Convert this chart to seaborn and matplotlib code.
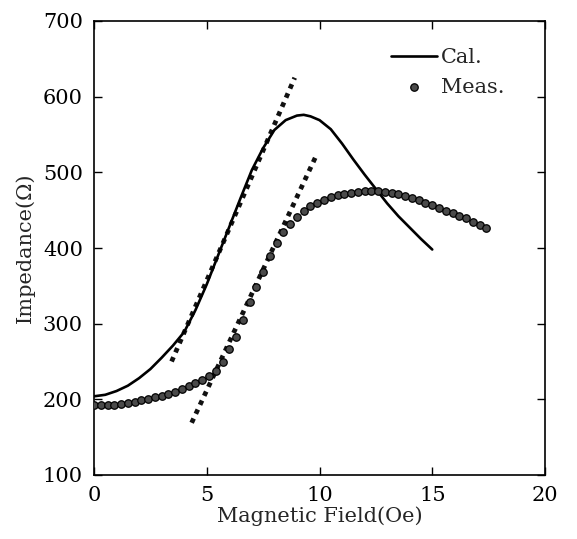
import matplotlib
matplotlib.use("Agg")
import matplotlib.pyplot as plt
import seaborn as sns
import pandas as pd

# Calculated curve (solid line)
cal_x = [0, 0.5, 1, 1.5, 2, 2.5, 3, 3.5, 4, 4.5, 5, 5.5, 6, 6.5, 7, 7.5, 8, 8.5,
         9, 9.3, 9.6, 10, 10.5, 11, 11.5, 12, 12.5, 13, 13.5, 14, 14.5, 15]
cal_y = [204, 206, 211, 218, 228, 240, 255, 271, 289, 318, 352, 390, 428, 466, 503, 532, 556, 569,
         575, 576, 574, 569, 557, 538, 517, 497, 478, 459, 442, 427, 412, 398]

# Measured points
meas_x = [0.0, 0.3, 0.6, 0.9, 1.2, 1.5, 1.8, 2.1, 2.4, 2.7, 3.0, 3.3, 3.6, 3.9, 4.2, 4.5,
          4.8, 5.1, 5.4, 5.7, 6.0, 6.3, 6.6, 6.9, 7.2, 7.5, 7.8, 8.1, 8.4, 8.7, 9.0, 9.3,
          9.6, 9.9, 10.2, 10.5, 10.8, 11.1, 11.4, 11.7, 12.0, 12.3, 12.6, 12.9, 13.2, 13.5,
          13.8, 14.1, 14.4, 14.7, 15.0, 15.3, 15.6, 15.9, 16.2, 16.5, 16.8, 17.1, 17.4]
meas_y = [192, 192, 192, 193, 194, 195, 197, 199, 201, 203, 205, 207, 210, 214, 218, 222,
          226, 231, 237, 250, 266, 283, 305, 328, 349, 368, 389, 407, 421, 432, 441, 449,
          455, 460, 464, 468, 470, 472, 473, 474, 475, 475, 475, 474, 473, 471,
          469, 466, 463, 460, 457, 453, 449, 446, 442, 439, 435, 431, 427]

# Tangent (dotted) lines
tan1_x = [3.44, 8.9]
tan1_y = [250, 625]
tan2_x = [4.33, 9.9]
tan2_y = [169, 525]

sns.set_theme(style="ticks")
plt.rcParams['font.family'] = ['DejaVu Serif']
plt.rcParams['mathtext.fontset'] = 'dejavuserif'

fig = plt.figure(figsize=(5.77, 5.39), dpi=100)
ax = fig.add_axes([94/577, 1 - 475/539, 451/577, 454/539])

df_cal = pd.DataFrame({"x": cal_x, "y": cal_y})
df_meas = pd.DataFrame({"x": meas_x, "y": meas_y})
df_t1 = pd.DataFrame({"x": tan1_x, "y": tan1_y})
df_t2 = pd.DataFrame({"x": tan2_x, "y": tan2_y})

for d in (df_t1, df_t2):
    sns.lineplot(data=d, x="x", y="y", ax=ax, color="#111111", lw=3.4,
                 legend=False, estimator=None, sort=False)
    ln = ax.lines[-1]
    ln.set_dashes((1.0, 1.1))
    ln.set_dash_capstyle("butt")

sns.lineplot(data=df_cal, x="x", y="y", ax=ax, color="black", lw=1.9,
             label="Cal.", estimator=None, sort=False)
sns.scatterplot(data=df_meas, x="x", y="y", ax=ax, color="#4a4a4a",
                edgecolor="black", linewidth=0.9, s=29, marker="o", label="Meas.", zorder=3)

ax.set_xlim(0, 20)
ax.set_ylim(100, 700)
ax.set_xticks([0, 5, 10, 15, 20])
ax.set_yticks([100, 200, 300, 400, 500, 600, 700])
ax.tick_params(direction="in", top=True, right=True, length=6, width=1.0,
               labelsize=15, colors="black", pad=8)
for s in ax.spines.values():
    s.set_linewidth(1.2)
    s.set_color("black")

ax.set_xlabel("Magnetic Field(Oe)", fontsize=15, labelpad=1)
ax.set_ylabel("Impedance(Ω)", fontsize=15, labelpad=6)

leg = ax.legend(loc="upper left", bbox_to_anchor=(0.658, 0.94), frameon=False,
                fontsize=15, handlelength=2.2, handletextpad=0.2, labelspacing=0.5,
                borderaxespad=0, borderpad=0)

fig.savefig("out.png", dpi=100)
